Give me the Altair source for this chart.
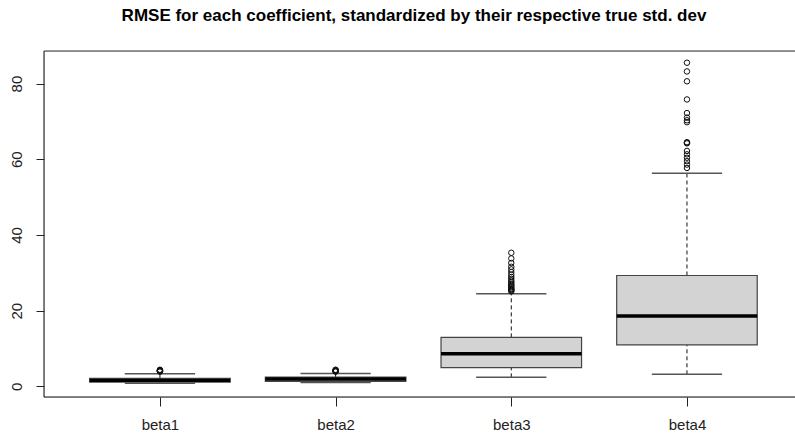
import altair as alt
import pandas as pd

# Summary statistics of the standardized RMSE per coefficient
categories = ["beta1", "beta2", "beta3", "beta4"]
whisker_low = [0.85, 1.05, 2.4, 3.2]
q1 = [1.15, 1.35, 4.95, 10.95]
median = [1.6, 1.95, 8.6, 18.6]
q3 = [2.15, 2.45, 12.95, 29.3]
whisker_high = [3.35, 3.4, 24.5, 56.3]

# Points beyond the whiskers
outliers_beta1 = [3.9, 4.0, 4.05, 4.1, 4.15, 4.2, 4.3, 4.4]
outliers_beta2 = [3.9, 4.0, 4.05, 4.1, 4.2, 4.3, 4.4]
outliers_beta3 = [35.3, 33.8, 32.6, 31.6, 30.9, 30.2, 29.5, 28.9, 28.4, 27.9,
                  27.5, 27.1, 26.8, 26.5, 26.2, 25.9, 25.7, 25.5, 25.3, 25.1]
outliers_beta4 = [85.5, 83.2, 80.6, 75.8, 72.2, 71.0, 70.3, 69.8, 64.5, 64.4,
                  64.2, 62.2, 61.3, 60.4, 59.5, 58.6, 57.7]

y_ticks = [0, 20, 40, 60, 80]
title_text = "RMSE for each coefficient, standardized by their respective true std. dev"

W, H = 751, 346
FONT = "Liberation Sans"
BOX_HALF = 0.4   # boxwex 0.8
CAP_HALF = 0.2   # staple width = half of box width

positions = list(range(1, len(categories) + 1))
stats = pd.DataFrame({
    "cat": categories,
    "pos": positions,
    "left": [p - BOX_HALF for p in positions],
    "right": [p + BOX_HALF for p in positions],
    "cap_l": [p - CAP_HALF for p in positions],
    "cap_r": [p + CAP_HALF for p in positions],
    "lo": whisker_low,
    "q1": q1,
    "med": median,
    "q3": q3,
    "hi": whisker_high,
})

out_rows = []
for pos, vals in zip(positions, [outliers_beta1, outliers_beta2, outliers_beta3, outliers_beta4]):
    for v in vals:
        out_rows.append({"pos": pos, "val": v})
outliers = pd.DataFrame(out_rows)

label_expr = "[" + ",".join(["''"] + [f"'{c}'" for c in categories]) + "][datum.value]"

x_scale = alt.Scale(domain=[0.34, 4.615], nice=False, zero=False)
y_scale = alt.Scale(domain=[-2.8, 88.6], nice=False, zero=False)
x_axis = alt.Axis(values=positions, labelExpr=label_expr, title=None, grid=False,
                  domain=False, tickSize=9, tickColor="#222", labelFontSize=15,
                  labelFont=FONT, labelColor="#222", labelPadding=11,
                  labelBaseline="top")
y_axis = alt.Axis(values=y_ticks, title=None, grid=False, domain=False,
                  tickSize=8, tickColor="#222", labelAngle=270, labelFontSize=15,
                  labelFont=FONT, labelColor="#222", labelAlign="center",
                  labelBaseline="alphabetic", labelPadding=15)


def X(field):
    return alt.X(field, type="quantitative", scale=x_scale, axis=x_axis)


def Y(field):
    return alt.Y(field, type="quantitative", scale=y_scale, axis=y_axis)


base = alt.Chart(stats)

whisk_up = base.mark_rule(color="#111", strokeWidth=1, strokeDash=[4, 3]).encode(
    x=X("pos"), y=Y("q3"), y2="hi")
whisk_dn = base.mark_rule(color="#111", strokeWidth=1, strokeDash=[4, 3]).encode(
    x=X("pos"), y=Y("lo"), y2="q1")
boxes = base.mark_bar(fill="#D3D3D3", stroke="#444", strokeWidth=1.2).encode(
    x=X("left"), x2="right", y=Y("q1"), y2="q3")
medians = base.mark_rule(color="#000", strokeWidth=3.5).encode(
    x=X("left"), x2="right", y=Y("med"))
cap_hi = base.mark_rule(color="#555", strokeWidth=1.5).encode(
    x=X("cap_l"), x2="cap_r", y=Y("hi"))
cap_lo = base.mark_rule(color="#555", strokeWidth=1.5).encode(
    x=X("cap_l"), x2="cap_r", y=Y("lo"))
points = alt.Chart(outliers).mark_point(
    shape="circle", filled=False, size=30, strokeWidth=1, color="#111", opacity=1
).encode(x=X("pos"), y=Y("val"))

one = pd.DataFrame({"k": [0]})
frame_top = alt.Chart(one).mark_rule(color="#333", strokeWidth=1.2).encode(
    x=alt.value(0), x2=alt.value(W), y=alt.value(0))
frame_left = alt.Chart(one).mark_rule(color="#333", strokeWidth=1.2).encode(
    x=alt.value(0), y=alt.value(0), y2=alt.value(H))
frame_bottom = alt.Chart(one).mark_rule(color="#111", strokeWidth=1.2).encode(
    x=alt.value(0), x2=alt.value(W), y=alt.value(H))

title = alt.Chart(pd.DataFrame({"t": [title_text]})).mark_text(
    font=FONT, fontSize=17, fontWeight="bold", color="#000",
    align="center", baseline="alphabetic"
).encode(text="t:N", x=alt.value(370), y=alt.value(-30.5))

chart = alt.layer(
    whisk_up, whisk_dn, boxes, medians, cap_hi, cap_lo, points,
    frame_top, frame_left, frame_bottom, title
).properties(
    width=W, height=H,
    autosize=alt.AutoSizeParams(type="none"),
    padding={"left": 44, "top": 51, "right": 0, "bottom": 38},
).configure_view(strokeWidth=0).configure(background="white")

chart.save("out.html", embed_options={"renderer": "svg", "actions": False})
